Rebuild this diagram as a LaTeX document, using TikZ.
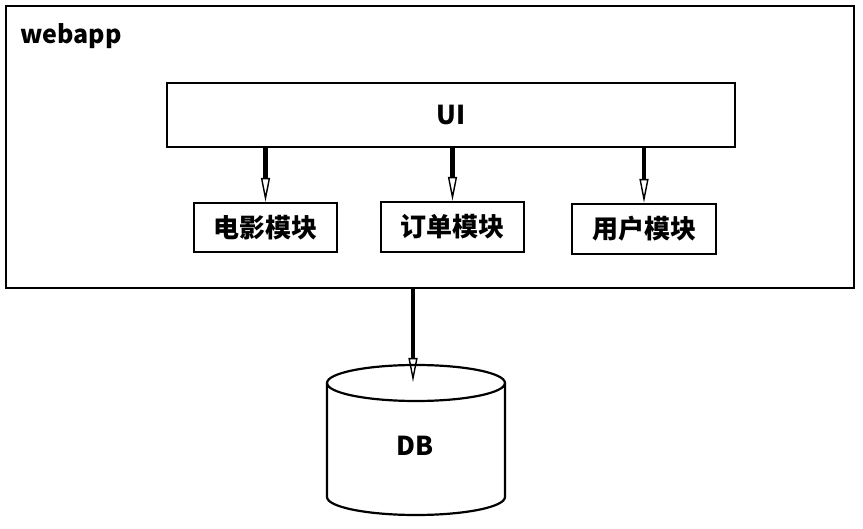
\documentclass[tikz,border=0pt]{standalone}
\usepackage{fontspec}
\setmainfont{Noto Sans CJK SC}
\usetikzlibrary{arrows.meta}
\begin{document}
\begin{tikzpicture}[x=1pt,y=-1pt,
  box/.style={draw,line width=2.2pt,rectangle,inner sep=0pt,font=\bfseries\fontsize{26}{28}\selectfont},
  conn/.style={line width=4.5pt,-{Triangle[open,length=24pt,width=9pt,line width=1.4pt]}}]
\useasboundingbox (0,0) rectangle (863,529);
\node[box,minimum width=848pt,minimum height=282pt,anchor=north west] (webapp) at (5,5) {};
\node[anchor=west,font=\bfseries\fontsize{25}{28}\selectfont] (title) at (17,36) {webapp};
\node[box,minimum width=568pt,minimum height=64pt,font=\bfseries\fontsize{26}{28}\selectfont] (ui) at (451,115) {\raisebox{-2pt}{UI}};
\node[box,minimum width=143pt,minimum height=49pt] (m1) at (265.5,227.5) {\raisebox{-3pt}{电影模块}};
\node[box,minimum width=143pt,minimum height=50pt] (m2) at (452.5,227) {\raisebox{-3pt}{订单模块}};
\node[box,minimum width=144pt,minimum height=50pt] (m3) at (644,229) {\raisebox{-3pt}{用户模块}};
\draw[conn] (m1.north |- ui.south) -- (m1.north);
\draw[conn] (ui.south -| m2.north) -- (m2.north);
\draw[conn] (m3.north |- ui.south) -- (m3.north);
% cylinder
\coordinate (dbtop) at (416,383);
\draw[line width=2.2pt] (327,383) -- (327,497) arc[start angle=180,end angle=0,x radius=89,y radius=18] -- (505,383);
\draw[line width=2.2pt] (dbtop) ellipse[x radius=89,y radius=18];
\node[font=\bfseries\fontsize{26}{28}\selectfont] (db) at (415,446) {DB};
\coordinate (webbot) at (413,287);
\coordinate (dbin) at (413,382);
\draw[conn] (webbot) -- (dbin);
\end{tikzpicture}
\end{document}
